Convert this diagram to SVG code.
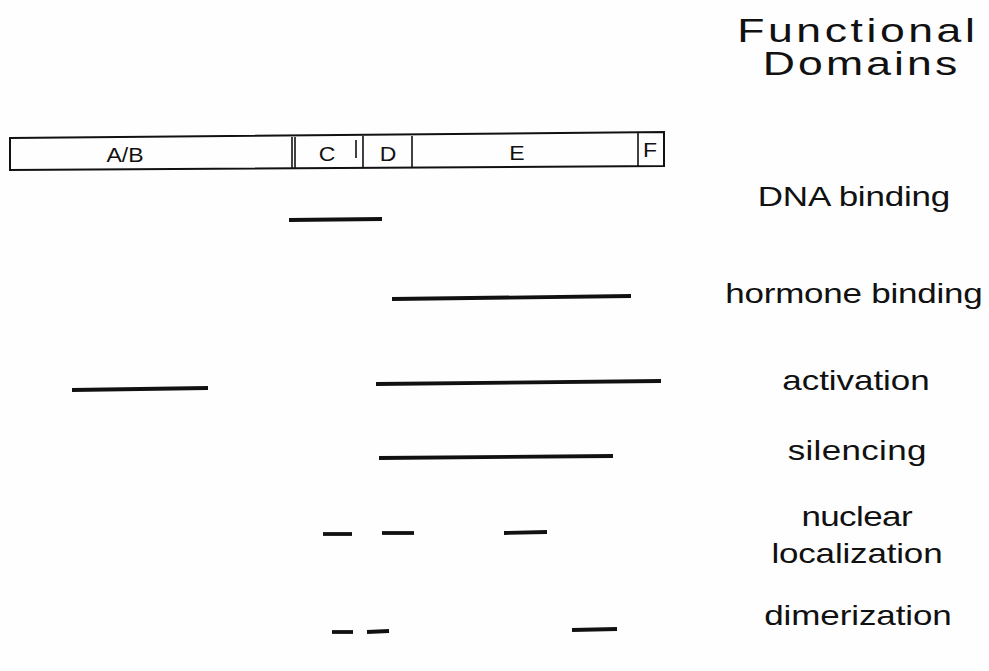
<svg xmlns="http://www.w3.org/2000/svg" width="989" height="671" viewBox="0 0 989 671">
<style>
.bg{fill:#fefefe}
.t{font-family:"Liberation Sans",Arial,sans-serif;fill:#111;text-anchor:middle}
.h{font-size:33px}
.l{font-size:28px}
.d{font-size:20px}
.box{fill:none;stroke:#111;stroke-width:2}
.div{stroke:#111;stroke-width:1.6}
.seg{stroke:#111;stroke-width:3.8;stroke-linecap:butt}
</style>
<rect class="bg" x="0" y="0" width="989" height="671"/>
<g id="title">
<text class="t h" transform="translate(856,42) scale(1.35,1)" textLength="176" lengthAdjust="spacing">Functional</text>
<text class="t h" transform="translate(860,75) scale(1.35,1)" textLength="144" lengthAdjust="spacing">Domains</text>
</g>
<g id="domain-bar">
<polygon class="box" points="10,138 664,132 664,166 10,170"/>
<line class="div" x1="292" y1="137" x2="292" y2="169"/>
<line class="div" x1="295" y1="137" x2="295" y2="169"/>
<line class="div" x1="356" y1="140" x2="356" y2="158"/>
<line class="div" x1="363" y1="136" x2="363" y2="168"/>
<line class="div" x1="412" y1="136" x2="412" y2="168"/>
<line class="div" x1="638" y1="133" x2="638" y2="166"/>
<text class="t d" transform="translate(125,162) scale(1.15,1)">A/B</text>
<text class="t d" transform="translate(327,161) scale(1.15,1)">C</text>
<text class="t d" transform="translate(388,161) scale(1.15,1)">D</text>
<text class="t d" transform="translate(517,160) scale(1.15,1)">E</text>
<text class="t d" transform="translate(650,157) scale(1.15,1)">F</text>
</g>
<g id="dna-binding">
<text class="t l" transform="translate(854,206) scale(1.25,1)" textLength="154" lengthAdjust="spacing">DNA binding</text>
</g>
<g id="hormone-binding">
<text class="t l" transform="translate(854,303) scale(1.25,1)" textLength="206" lengthAdjust="spacing">hormone binding</text>
</g>
<g id="activation">
<text class="t l" transform="translate(856,390) scale(1.25,1)" textLength="118" lengthAdjust="spacing">activation</text>
</g>
<g id="silencing">
<text class="t l" transform="translate(857,460) scale(1.25,1)" textLength="111" lengthAdjust="spacing">silencing</text>
</g>
<g id="nuclear-localization">
<text class="t l" transform="translate(857,526) scale(1.25,1)" textLength="89" lengthAdjust="spacing">nuclear</text>
<text class="t l" transform="translate(857,563) scale(1.25,1)" textLength="137" lengthAdjust="spacing">localization</text>
</g>
<g id="dimerization">
<text class="t l" transform="translate(858,625) scale(1.25,1)" textLength="150" lengthAdjust="spacing">dimerization</text>
</g>
<g id="connectors">
<line class="seg" x1="289" y1="220" x2="382" y2="219"/>
<line class="seg" x1="392" y1="299" x2="631" y2="296"/>
<line class="seg" x1="72" y1="390" x2="208" y2="388"/>
<line class="seg" x1="376" y1="384" x2="661" y2="381"/>
<line class="seg" x1="379" y1="458" x2="613" y2="456"/>
<line class="seg" x1="323" y1="534" x2="352" y2="534"/>
<line class="seg" x1="382" y1="533" x2="414" y2="533"/>
<line class="seg" x1="504" y1="533" x2="547" y2="532"/>
<line class="seg" x1="332" y1="632" x2="353" y2="632"/>
<line class="seg" x1="367" y1="632" x2="389" y2="631"/>
<line class="seg" x1="572" y1="630" x2="617" y2="629"/>
</g>
</svg>
